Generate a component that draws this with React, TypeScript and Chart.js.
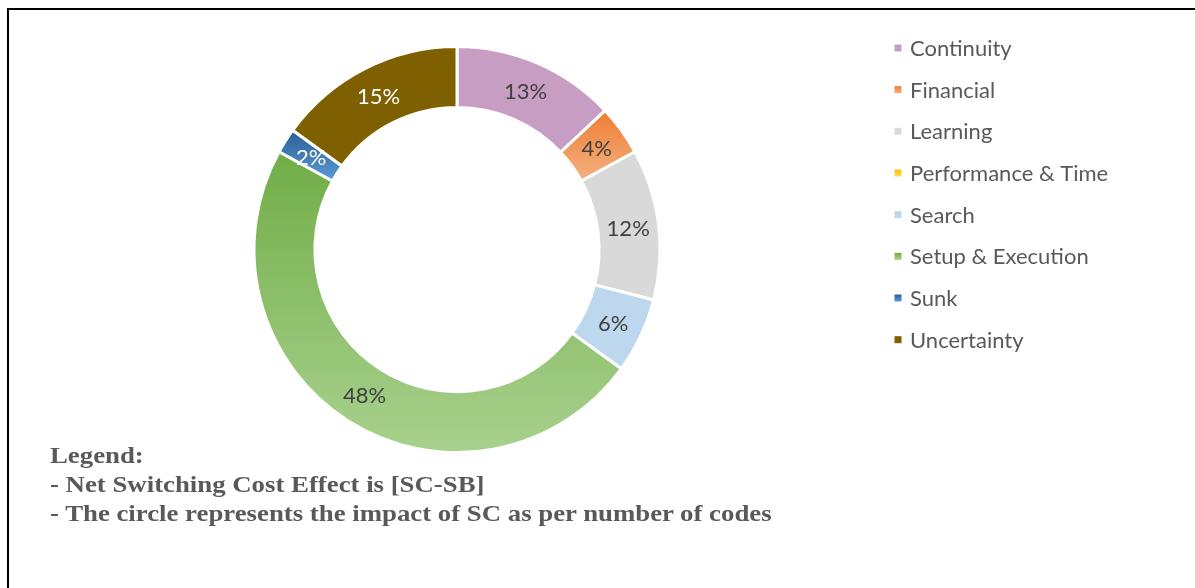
import React, { useEffect, useRef } from "react";
import { Chart, registerables } from "chart.js";

Chart.register(...registerables);

const categories = [
  "Continuity",
  "Financial",
  "Learning",
  "Performance & Time",
  "Search",
  "Setup & Execution",
  "Sunk",
  "Uncertainty",
];
const shares = [13, 4, 12, 0, 6, 48, 2, 15];
const topColors = ["#C89DC4", "#ED7D31", "#D9D9D9", "#FFC000", "#BDD7EE", "#70AD47", "#2A5F94", "#7F6000"];
const bottomColors = ["#C89DC4", "#F4B183", "#D9D9D9", "#FFD966", "#BDD7EE", "#A9D18E", "#5B9BD5", "#7F6000"];
const labelColors = ["#404040", "#404040", "#404040", "#404040", "#404040", "#404040", "#FFFFFF", "#FFFFFF"];
const notes = [
  "Legend:",
  "- Net Switching Cost Effect is [SC-SB]",
  "- The circle represents the impact of SC as per number of codes",
];

const BORDER = 3;
const CUTOUT = 0.7;

function segmentFill(ctx: any) {
  const i = ctx.dataIndex;
  const chart = ctx.chart;
  const area = chart.chartArea;
  if (!area || topColors[i] === bottomColors[i]) return topColors[i];
  const cy = (area.top + area.bottom) / 2;
  const R = (Math.min(area.width, area.height) - BORDER) / 2;
  const r = R * CUTOUT;
  const total = shares.reduce((a, b) => a + b, 0);
  const before = shares.slice(0, i).reduce((a, b) => a + b, 0);
  const a0 = -Math.PI / 2 + (2 * Math.PI * before) / total;
  const a1 = a0 + (2 * Math.PI * shares[i]) / total;
  let ymin = Infinity;
  let ymax = -Infinity;
  for (let k = 0; k <= 60; k++) {
    const a = a0 + ((a1 - a0) * k) / 60;
    for (const rad of [r, R]) {
      const y = cy + rad * Math.sin(a);
      ymin = Math.min(ymin, y);
      ymax = Math.max(ymax, y);
    }
  }
  if (ymax - ymin < 1) return topColors[i];
  const g = chart.ctx.createLinearGradient(0, ymin, 0, ymax);
  g.addColorStop(0, topColors[i]);
  g.addColorStop(1, bottomColors[i]);
  return g;
}

const dataLabelPlugin = {
  id: "dataLabels",
  afterDatasetsDraw(chart: any) {
    const meta = chart.getDatasetMeta(0);
    const ctx = chart.ctx;
    ctx.save();
    ctx.font = "22px Lato";
    ctx.textAlign = "center";
    ctx.textBaseline = "middle";
    meta.data.forEach((arc: any, i: number) => {
      const v = shares[i];
      if (!v) return;
      const p = arc.tooltipPosition();
      ctx.fillStyle = labelColors[i];
      ctx.fillText(v + "%", p.x, p.y + 1);
    });
    ctx.restore();
  },
};

const sideLegendPlugin = {
  id: "sideLegend",
  afterDraw(chart: any) {
    const ctx = chart.ctx;
    ctx.save();
    ctx.font = "22px Lato";
    ctx.textBaseline = "middle";
    ctx.textAlign = "left";
    categories.forEach((name, i) => {
      const y = 48 + i * 41.67;
      const g = ctx.createLinearGradient(0, y - 3.5, 0, y + 3.5);
      g.addColorStop(0, topColors[i]);
      g.addColorStop(1, bottomColors[i]);
      ctx.fillStyle = g;
      ctx.fillRect(894.5, y - 3.5, 7, 7);
      ctx.fillStyle = "#595959";
      ctx.fillText(name, 910, y + 1);
    });
    ctx.restore();
  },
};

export default function App() {
  const ref = useRef<HTMLCanvasElement | null>(null);

  useEffect(() => {
    if (!ref.current) return;
    const chart = new Chart(ref.current, {
      type: "doughnut",
      data: {
        labels: categories,
        datasets: [
          {
            data: shares,
            backgroundColor: segmentFill as any,
            borderColor: "#FFFFFF",
            borderWidth: BORDER,
          },
        ],
      },
      options: {
        responsive: false,
        animation: false,
        cutout: CUTOUT * 100 + "%",
        layout: { padding: { left: 252.5, right: 533.5, top: 45, bottom: 134 } },
        plugins: {
          legend: { display: false },
          tooltip: { enabled: false },
        },
      },
      plugins: [dataLabelPlugin, sideLegendPlugin],
    });
    return () => chart.destroy();
  }, []);

  return (
    <div>
      <div
        style={{
          position: "fixed",
          left: 7,
          top: 8,
          width: 1200,
          height: 600,
          borderTop: "2.5px solid #000",
          borderLeft: "2.5px solid #000",
        }}
      />
      <canvas
        ref={ref}
        width={1195}
        height={588}
        style={{ position: "fixed", left: 0, top: 0, width: 1195, height: 588 }}
      />
      <div
        style={{
          position: "fixed",
          left: 50,
          top: 441.2,
          fontFamily: "'Liberation Serif', 'Times New Roman', serif",
          fontWeight: "bold",
          fontSize: 24,
          lineHeight: "28.8px",
          color: "#595959",
          whiteSpace: "nowrap",
          transform: "scaleX(1.116)",
          transformOrigin: "left top",
        }}
      >
        {notes.map((t) => (
          <div key={t}>{t}</div>
        ))}
      </div>
    </div>
  );
}
